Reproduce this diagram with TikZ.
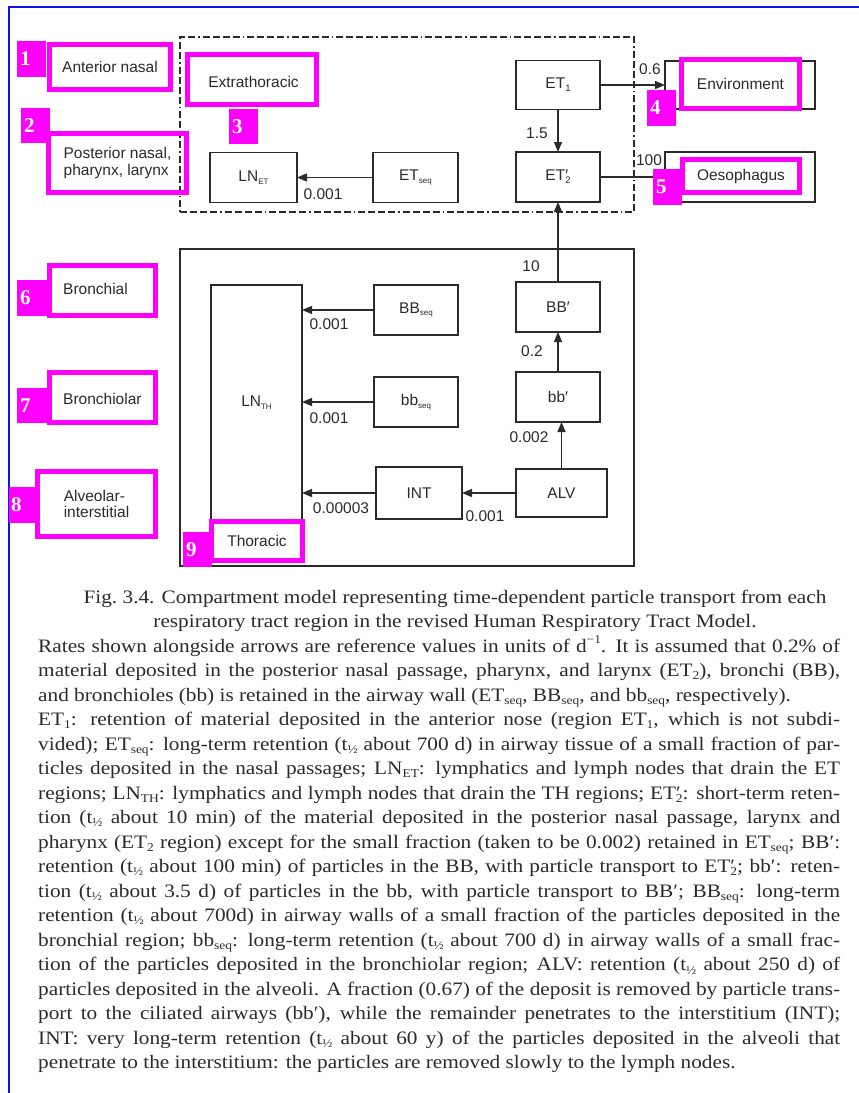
\documentclass[tikz,border=0pt]{standalone}
\usepackage{fontspec}
\setmainfont{Liberation Serif}
\newfontfamily\capserif[FakeStretch=1.12]{Liberation Serif}
\newfontfamily\arialf{Liberation Sans}
\usetikzlibrary{arrows.meta}
\definecolor{mag}{HTML}{FF00FF}
\definecolor{ink}{HTML}{2A2A2A}
\definecolor{frameblue}{HTML}{1010F0}
\newcommand\dfont{\arialf\fontsize{15.5}{18}\selectfont}
\newcommand\dsub[1]{\raisebox{-0.35ex}{\fontsize{8}{8}\selectfont #1}}
\newcommand\dsubn[1]{\raisebox{-0.35ex}{\fontsize{9.5}{9.5}\selectfont #1}}
\newcommand\csub[1]{\raisebox{-0.4ex}{\fontsize{12}{12}\selectfont #1}}
\newcommand\csup[1]{\raisebox{0.95ex}{\fontsize{12}{12}\selectfont #1}}
\newcommand\capfont{\capserif\fontsize{19}{24}\selectfont}
\tikzset{
  box/.style={draw=ink, line width=1.2pt, inner sep=0pt, outer sep=0pt, font=\dfont, text=ink},
  mbox/.style={draw=mag, line width=4.6pt, inner sep=0pt, outer sep=0pt, font=\dfont, text=ink},
  tag/.style={fill=mag, inner sep=0pt, outer sep=0pt, text=white, font=\rmfamily\bfseries\fontsize{21}{21}\selectfont},
  lbl/.style={font=\dfont, text=ink, inner sep=0pt},
  arr/.style={draw=ink, line width=1.2pt, -{Triangle[length=10pt,width=8pt]}},
  region/.style={draw=ink, line width=1.3pt, inner sep=0pt},
  capline/.style={anchor=base west, inner sep=0pt, font=\capfont, text=ink},
  capcenter/.style={anchor=base, inner sep=0pt, font=\capfont, text=ink}
}
\begin{document}
\begin{tikzpicture}[x=1pt,y=-1pt]
\useasboundingbox (0,0) rectangle (859,1093);
% blue frame
\draw[frameblue, line width=2pt] (9,1093) -- (9,7) -- (859,7);

% regions
\node[region, dash pattern=on 7pt off 3pt on 7pt off 3pt on 7pt off 3pt on 7pt off 3pt on 1.5pt off 3pt, minimum width=454pt, minimum height=175pt] (ETreg) at (407,124.5) {};
\node[region, minimum width=454pt, minimum height=317pt] (THreg) at (407,407.5) {};

% compartments
\node[box, minimum width=84pt, minimum height=49pt] (ET1) at (558,85) {ET\dsubn{1}};
\node[box, minimum width=84pt, minimum height=50pt] (ET2p) at (558,177) {ET\rlap{′}\dsubn{2}};
\node[box, minimum width=85pt, minimum height=50pt] (ETseq) at (415.5,177.5) {ET\dsub{seq}};
\node[box, minimum width=87pt, minimum height=50pt] (LNET) at (253.5,177.5) {LN\dsub{ET}};
\node[box, minimum width=150pt, minimum height=48pt] (Env) at (740,85) {};
\node[box, minimum width=150pt, minimum height=50pt] (Oes) at (740,177) {};
\node[box, minimum width=84pt, minimum height=50pt] (BBp) at (558,307) {BB′};
\node[box, minimum width=84pt, minimum height=50pt] (bbp) at (558,397) {bb′};
\node[box, minimum width=91pt, minimum height=48pt] (ALV) at (561.5,493) {ALV};
\node[box, minimum width=86pt, minimum height=52pt] (INT) at (419,493) {INT};
\node[box, minimum width=84pt, minimum height=50pt] (BBseq) at (416,310) {BB\dsub{seq}};
\node[box, minimum width=84pt, minimum height=50pt] (bbseq) at (416,402) {bb\dsub{seq}};
\node[box, minimum width=91pt, minimum height=236pt] (LNTH) at (256.5,403) {LN\dsub{TH}};

% connectors
\draw[arr] (ETseq.west) -- (LNET.east);
\draw[arr] (ET1.east) -- (Env.west);
\draw[arr] (ET1.south) -- (ET2p.north);
\draw[arr] (ET2p.east) -- (Oes.west);
\draw[arr] (BBp.north) -- (ET2p.south);
\draw[arr] (bbp.north) -- (BBp.south);
\draw[arr] (ALV.north) -- (ALV.north |- bbp.south);
\draw[arr] (ALV.west) -- (INT.east);
\draw[arr] (INT.west) -- (INT.west -| LNTH.east);
\draw[arr] (BBseq.west) -- (BBseq.west -| LNTH.east);
\draw[arr] (bbseq.west) -- (bbseq.west -| LNTH.east);

% rate labels
\node[lbl] (r1) at (537,133) {1.5};
\node[lbl] (r2) at (650,69) {0.6};
\node[lbl] (r3) at (649,160) {100};
\node[lbl] (r4) at (323,194) {0.001};
\node[lbl] (r5) at (531,266) {10};
\node[lbl] (r6) at (532,351) {0.2};
\node[lbl] (r7) at (529,437) {0.002};
\node[lbl] (r8) at (485,516) {0.001};
\node[lbl] (r9) at (341,508) {0.00003};
\node[lbl] (r10) at (329,324) {0.001};
\node[lbl] (r11) at (329,418) {0.001};

% magenta annotation boxes
\node[mbox, minimum width=121.5pt, minimum height=45.5pt] (mA) at (110,67) {Anterior nasal};
\node[mbox, minimum width=138.5pt, minimum height=59.5pt, align=left] (mB) at (117.5,163) {Posterior nasal,\\[-1pt]pharynx, larynx};
\node[mbox, minimum width=129.5pt, minimum height=50.5pt] (mC) at (252,79.5) {};
\node[lbl] (tC) at (253.5,82) {Extrathoracic};
\node[mbox, minimum width=118.5pt, minimum height=49.5pt] (mD) at (740.5,84) {Environment};
\node[mbox, minimum width=117.5pt, minimum height=33.5pt] (mE) at (741,176) {Oesophagus};
\node[mbox, minimum width=106.5pt, minimum height=50.5pt] (mF) at (102.5,290.5) {};
\node[lbl, anchor=west] (tF) at (63,289) {Bronchial};
\node[mbox, minimum width=106.5pt, minimum height=50.5pt] (mG) at (102.5,397.5) {};
\node[lbl, anchor=west] (tG) at (63,399) {Bronchiolar};
\node[mbox, minimum width=118.5pt, minimum height=65.5pt, align=left] (mH) at (96.5,504) {Alveolar-\\[-2pt]interstitial};
\node[mbox, fill=white, minimum width=91.5pt, minimum height=39.5pt] (mI) at (257,541) {Thoracic};

% number tags
\node[tag, minimum width=29pt, minimum height=36pt] (t1) at (31.5,59) {\makebox[23pt][l]{1}};
\node[tag, minimum width=29pt, minimum height=35pt] (t2) at (35.5,125.5) {\makebox[23pt][l]{2}};
\node[tag, minimum width=29pt, minimum height=35pt] (t3) at (243.5,126.5) {\makebox[23pt][l]{3}};
\node[tag, minimum width=29pt, minimum height=36pt] (t4) at (661.5,108) {\makebox[23pt][l]{4}};
\node[tag, minimum width=29pt, minimum height=36pt] (t5) at (667.5,187) {\makebox[23pt][l]{5}};
\node[tag, minimum width=30pt, minimum height=36pt] (t6) at (32,298) {\makebox[24pt][l]{6}};
\node[tag, minimum width=30pt, minimum height=35pt] (t7) at (32,405.5) {\makebox[24pt][l]{7}};
\node[tag, minimum width=26pt, minimum height=36pt] (t8) at (22,505) {\makebox[22pt][l]{8}};
\node[tag, minimum width=29pt, minimum height=35pt] (t9) at (197.5,549.5) {\makebox[23pt][l]{9}};

% caption
\node[capcenter] (c1) at (455,603) {Fig.\ 3.4. Compartment model representing time-dependent particle transport from each};
\node[capcenter] (c2) at (455,627.5) {respiratory tract region in the revised Human Respiratory Tract Model.};
\node[capline] (p1) at (38,652) {\makebox[802pt][s]{Rates shown alongside arrows are reference values in units of d\csup{−1}. It is assumed that 0.2\% of}};
\node[capline] (p2) at (38,676.5) {\makebox[802pt][s]{material deposited in the posterior nasal passage, pharynx, and larynx (ET\csub{2}), bronchi (BB),}};
\node[capline] (p3) at (38,701) {and bronchioles (bb) is retained in the airway wall (ET\csub{seq}, BB\csub{seq}, and bb\csub{seq}, respectively).};
\node[capline] (p4) at (38,725.5) {\makebox[802pt][s]{ET\csub{1}: retention of material deposited in the anterior nose (region ET\csub{1}, which is not subdi-}};
\node[capline] (p5) at (38,750) {\makebox[802pt][s]{vided); ET\csub{seq}: long-term retention (t\csub{½} about 700 d) in airway tissue of a small fraction of par-}};
\node[capline] (p6) at (38,774.5) {\makebox[802pt][s]{ticles deposited in the nasal passages; LN\csub{ET}: lymphatics and lymph nodes that drain the ET}};
\node[capline] (p7) at (38,799) {\makebox[802pt][s]{regions; LN\csub{TH}: lymphatics and lymph nodes that drain the TH regions; ET\rlap{′}\csub{2}: short-term reten-}};
\node[capline] (p8) at (38,823.5) {\makebox[802pt][s]{tion (t\csub{½} about 10 min) of the material deposited in the posterior nasal passage, larynx and}};
\node[capline] (p9) at (38,848) {\makebox[802pt][s]{pharynx (ET\csub{2} region) except for the small fraction (taken to be 0.002) retained in ET\csub{seq}; BB′:}};
\node[capline] (p10) at (38,872.5) {\makebox[802pt][s]{retention (t\csub{½} about 100 min) of particles in the BB, with particle transport to ET\rlap{′}\csub{2}; bb′: reten-}};
\node[capline] (p11) at (38,897) {\makebox[802pt][s]{tion (t\csub{½} about 3.5 d) of particles in the bb, with particle transport to BB′; BB\csub{seq}: long-term}};
\node[capline] (p12) at (38,921.5) {\makebox[802pt][s]{retention (t\csub{½} about 700d) in airway walls of a small fraction of the particles deposited in the}};
\node[capline] (p13) at (38,946) {\makebox[802pt][s]{bronchial region; bb\csub{seq}: long-term retention (t\csub{½} about 700 d) in airway walls of a small frac-}};
\node[capline] (p14) at (38,970.5) {\makebox[802pt][s]{tion of the particles deposited in the bronchiolar region; ALV: retention (t\csub{½} about 250 d) of}};
\node[capline] (p15) at (38,995) {\makebox[802pt][s]{particles deposited in the alveoli. A fraction (0.67) of the deposit is removed by particle trans-}};
\node[capline] (p16) at (38,1019.5) {\makebox[802pt][s]{port to the ciliated airways (bb′), while the remainder penetrates to the interstitium (INT);}};
\node[capline] (p17) at (38,1044) {\makebox[802pt][s]{INT: very long-term retention (t\csub{½} about 60 y) of the particles deposited in the alveoli that}};
\node[capline] (p18) at (38,1068.5) {penetrate to the interstitium: the particles are removed slowly to the lymph nodes.};
\end{tikzpicture}
\end{document}
